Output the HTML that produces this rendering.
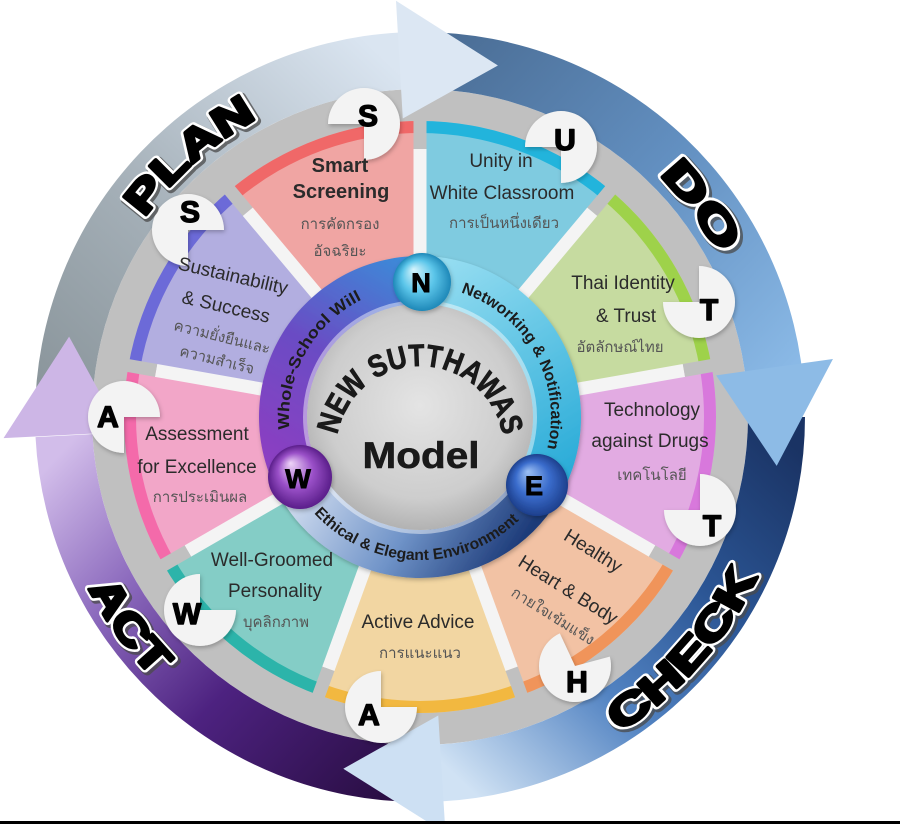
<!DOCTYPE html>
<html>
<head>
<meta charset="utf-8">
<style>
html,body{margin:0;padding:0;background:#fff;width:900px;height:824px;overflow:hidden}
svg{display:block}
</style>
</head>
<body>
<svg width="900" height="824" viewBox="0 0 900 824" xmlns="http://www.w3.org/2000/svg" font-family="'Liberation Sans', 'Noto Sans CJK SC', sans-serif">
<defs>
  <path id="band" d="M0,-385 A385,385 0 0 1 384.47,-20.15 L327.55,-17.17 A328,328 0 0 0 0,-328 Z"/>
  <path id="head" d="M0,-417 L0,-299 L98.02,-346.4 Z"/>
  <path id="seg" d="M0,-296 A296,296 0 0 1 190.27,-226.74 L96.42,-114.9 A150,150 0 0 0 0,-150 Z"/>
  <path id="rim" d="M0,-296 A296,296 0 0 1 190.27,-226.74 L182.56,-217.54 A284,284 0 0 0 0,-284 Z"/>

  <linearGradient id="gPlan" gradientUnits="userSpaceOnUse" x1="12.4" y1="-355.8" x2="354.6" y2="-31">
    <stop offset="0" stop-color="#8b969c"/><stop offset="0.4" stop-color="#a3aeb6"/><stop offset="1" stop-color="#dae5f1"/>
  </linearGradient>
  <linearGradient id="gDo" gradientUnits="userSpaceOnUse" x1="12.4" y1="-355.8" x2="354.6" y2="-31">
    <stop offset="0" stop-color="#4b6e96"/><stop offset="0.5" stop-color="#628fc0"/><stop offset="1" stop-color="#8ab9e6"/>
  </linearGradient>
  <linearGradient id="gCheck" gradientUnits="userSpaceOnUse" x1="12.4" y1="-355.8" x2="354.6" y2="-31">
    <stop offset="0" stop-color="#1a3364"/><stop offset="0.35" stop-color="#2b5594"/><stop offset="0.65" stop-color="#5283c2"/><stop offset="1" stop-color="#d0e2f4"/>
  </linearGradient>
  <linearGradient id="gAct" gradientUnits="userSpaceOnUse" x1="12.4" y1="-355.8" x2="354.6" y2="-31">
    <stop offset="0" stop-color="#2a0e44"/><stop offset="0.4" stop-color="#4d2280"/><stop offset="0.7" stop-color="#8a68bc"/><stop offset="1" stop-color="#d2bdea"/>
  </linearGradient>

  <linearGradient id="gLeft" gradientUnits="userSpaceOnUse" x1="290" y1="470" x2="410" y2="262">
    <stop offset="0" stop-color="#8b3fc2"/><stop offset="0.5" stop-color="#6a4cc4"/><stop offset="1" stop-color="#3c8ad8"/>
  </linearGradient>
  <linearGradient id="gRight" gradientUnits="userSpaceOnUse" x1="430" y1="256" x2="575" y2="490">
    <stop offset="0" stop-color="#9adff2"/><stop offset="1" stop-color="#22a8d6"/>
  </linearGradient>
  <linearGradient id="gBottom" gradientUnits="userSpaceOnUse" x1="320" y1="470" x2="500" y2="580">
    <stop offset="0" stop-color="#c8d6ec"/><stop offset="0.5" stop-color="#6f93c8"/><stop offset="1" stop-color="#1c3a78"/>
  </linearGradient>
  <radialGradient id="gDisc" cx="50%" cy="45%" r="55%">
    <stop offset="0" stop-color="#e4e4e4"/><stop offset="0.75" stop-color="#cdcdcd"/><stop offset="1" stop-color="#b2b2b2"/>
  </radialGradient>
  <radialGradient id="gN" cx="50%" cy="50%" r="50%" fx="35%" fy="28%">
    <stop offset="0" stop-color="#d6f4fc"/><stop offset="0.55" stop-color="#5cc6ea"/><stop offset="1" stop-color="#1e88b8"/>
  </radialGradient>
  <radialGradient id="gE" cx="50%" cy="50%" r="50%" fx="35%" fy="28%">
    <stop offset="0" stop-color="#9cc0f4"/><stop offset="0.55" stop-color="#3a6ccc"/><stop offset="1" stop-color="#1d3f8c"/>
  </radialGradient>
  <radialGradient id="gW" cx="50%" cy="50%" r="50%" fx="35%" fy="28%">
    <stop offset="0" stop-color="#eed4f8"/><stop offset="0.55" stop-color="#9a50c8"/><stop offset="1" stop-color="#5a1e8a"/>
  </radialGradient>

  <filter id="sh" x="-20%" y="-20%" width="140%" height="140%">
    <feDropShadow dx="1" dy="2" stdDeviation="2" flood-color="#000" flood-opacity="0.25"/>
  </filter>

  <path id="cw340" d="M420,77 A340,340 0 1 1 420,757 A340,340 0 1 1 420,77"/>
  <path id="ccw373" d="M420,790 A373,373 0 1 0 420,44 A373,373 0 1 0 420,790"/>
  <path id="newArc" d="M420,534 A84,84 0 1 1 420,366 A84,84 0 1 1 420,534"/>
  <path id="cw131" d="M420,286 A131,131 0 1 1 420,548 A131,131 0 1 1 420,286"/>
  <path id="ccw143" d="M420,274 A143,143 0 1 0 420,560 A143,143 0 1 0 420,274"/>
</defs>

<rect width="900" height="824" fill="#fff"/>

<!-- gray ring -->
<circle cx="420" cy="417" r="328" fill="#c0c0c0"/>

<!-- arrow bands -->
<use href="#band" fill="url(#gPlan)" transform="translate(420 417) rotate(270)"/>
<use href="#band" fill="url(#gDo)" transform="translate(420 417) rotate(0)"/>
<use href="#band" fill="url(#gCheck)" transform="translate(420 417) rotate(90)"/>
<use href="#band" fill="url(#gAct)" transform="translate(420 417) rotate(180)"/>

<!-- arrow heads -->
<use href="#head" fill="#dce7f3" transform="translate(420 417) rotate(-3.3)"/>
<use href="#head" fill="#8dbbe6" transform="translate(420 417) rotate(82)"/>
<use href="#head" fill="#cde0f3" transform="translate(420 417) rotate(176.5)"/>
<use href="#head" fill="#cdb6e6" transform="translate(420 417) rotate(267.1)"/>

<!-- white disc under segments -->
<circle cx="420" cy="417" r="268" fill="#f3f3f3"/>

<!-- segments -->
<g transform="translate(420 417)">
  <use href="#seg" fill="#7fcbe0" transform="rotate(0)"/>
  <use href="#seg" fill="#c6dba0" transform="rotate(40)"/>
  <use href="#seg" fill="#e2abe2" transform="rotate(80)"/>
  <use href="#seg" fill="#f2c2a4" transform="rotate(120)"/>
  <use href="#seg" fill="#f2d6a2" transform="rotate(160)"/>
  <use href="#seg" fill="#84cdc6" transform="rotate(200)"/>
  <use href="#seg" fill="#f2a6c8" transform="rotate(240)"/>
  <use href="#seg" fill="#b2aee0" transform="rotate(280)"/>
  <use href="#seg" fill="#f0a5a3" transform="rotate(320)"/>

  <use href="#rim" fill="#22b4dc" transform="rotate(0)"/>
  <use href="#rim" fill="#9ed24a" transform="rotate(40)"/>
  <use href="#rim" fill="#d878dc" transform="rotate(80)"/>
  <use href="#rim" fill="#f0945a" transform="rotate(120)"/>
  <use href="#rim" fill="#f2b840" transform="rotate(160)"/>
  <use href="#rim" fill="#2cb4aa" transform="rotate(200)"/>
  <use href="#rim" fill="#f46aaa" transform="rotate(240)"/>
  <use href="#rim" fill="#6c6ad8" transform="rotate(280)"/>
  <use href="#rim" fill="#f06868" transform="rotate(320)"/>

  <g stroke-width="13">
    <g transform="rotate(0)"><line x1="0" y1="-150" x2="0" y2="-268" stroke="#f4f4f4"/><line x1="0" y1="-268" x2="0" y2="-299" stroke="#c0c0c0"/></g>
    <g transform="rotate(40)"><line x1="0" y1="-150" x2="0" y2="-268" stroke="#f4f4f4"/><line x1="0" y1="-268" x2="0" y2="-299" stroke="#c0c0c0"/></g>
    <g transform="rotate(80)"><line x1="0" y1="-150" x2="0" y2="-268" stroke="#f4f4f4"/><line x1="0" y1="-268" x2="0" y2="-299" stroke="#c0c0c0"/></g>
    <g transform="rotate(120)"><line x1="0" y1="-150" x2="0" y2="-268" stroke="#f4f4f4"/><line x1="0" y1="-268" x2="0" y2="-299" stroke="#c0c0c0"/></g>
    <g transform="rotate(160)"><line x1="0" y1="-150" x2="0" y2="-268" stroke="#f4f4f4"/><line x1="0" y1="-268" x2="0" y2="-299" stroke="#c0c0c0"/></g>
    <g transform="rotate(200)"><line x1="0" y1="-150" x2="0" y2="-268" stroke="#f4f4f4"/><line x1="0" y1="-268" x2="0" y2="-299" stroke="#c0c0c0"/></g>
    <g transform="rotate(240)"><line x1="0" y1="-150" x2="0" y2="-268" stroke="#f4f4f4"/><line x1="0" y1="-268" x2="0" y2="-299" stroke="#c0c0c0"/></g>
    <g transform="rotate(280)"><line x1="0" y1="-150" x2="0" y2="-268" stroke="#f4f4f4"/><line x1="0" y1="-268" x2="0" y2="-299" stroke="#c0c0c0"/></g>
    <g transform="rotate(320)"><line x1="0" y1="-150" x2="0" y2="-268" stroke="#f4f4f4"/><line x1="0" y1="-268" x2="0" y2="-299" stroke="#c0c0c0"/></g>
  </g>
</g>

<!-- letter bubbles -->
<g fill="#f3f3f3" filter="url(#sh)">
  <path d="M364,124 L328,124 A36,36 0 1 1 364,160 Z"/>
  <path d="M561,147 L525,147 A36,36 0 1 1 561,183 Z"/>
  <path d="M699,302 L699,266 A36,36 0 1 1 663,302 Z"/>
  <path d="M700,510 L700,474 A36,36 0 1 1 664,510 Z"/>
  <path d="M575,666 L609.77,656.68 A36,36 0 1 1 559.79,633.37 Z"/>
  <path d="M381,707 L417,707 A36,36 0 1 1 381,671 Z"/>
  <path d="M200,610 L236,610 A36,36 0 1 1 200,574 Z"/>
  <path d="M124,417 L124,453 A36,36 0 1 1 160,417 Z"/>
  <path d="M188,230 L188,266 A36,36 0 1 1 224,230 Z"/>
</g>
<g font-size="30" font-weight="bold" fill="#000" stroke="#000" stroke-width="1.4" stroke-linejoin="round" text-anchor="middle">
  <text x="368" y="126">S</text>
  <text x="565" y="150">U</text>
  <text x="709" y="320">T</text>
  <text x="712" y="536">T</text>
  <text x="577" y="692">H</text>
  <text x="369" y="725">A</text>
  <text x="187" y="624">W</text>
  <text x="108" y="427">A</text>
  <text x="190" y="222">S</text>
</g>

<!-- segment texts -->
<g fill="#2b2b2b" text-anchor="middle" font-size="19">
  <text x="340" y="172" font-size="20" font-weight="bold">Smart</text>
  <text x="341" y="198" font-size="20" font-weight="bold">Screening</text>

  <text x="501" y="167">Unity in</text>
  <text x="502" y="199">White Classroom</text>

  <text x="623" y="289">Thai Identity</text>
  <text x="626" y="322">&amp; Trust</text>

  <text x="652" y="416">Technology</text>
  <text x="650" y="447">against Drugs</text>

  <g transform="translate(593 551) rotate(32)"><text x="0" y="6">Healthy</text></g>
  <g transform="translate(568 590) rotate(32)"><text x="0" y="6">Heart &amp; Body</text></g>

  <text x="418" y="628">Active Advice</text>

  <text x="272" y="566">Well-Groomed</text>
  <text x="275" y="597">Personality</text>

  <text x="197" y="440">Assessment</text>
  <text x="197" y="473">for Excellence</text>

  <g transform="translate(233 276) rotate(13)"><text x="0" y="6">Sustainability</text></g>
  <g transform="translate(226 307) rotate(13)"><text x="0" y="6">&amp; Success</text></g>
</g>
<g fill="#555" text-anchor="middle" font-size="15">
  <text x="340" y="229">การคัดกรอง</text>
  <text x="340" y="256">อัจฉริยะ</text>
  <text x="504" y="228">การเป็นหนึ่งเดียว</text>
  <text x="620" y="352">อัตลักษณ์ไทย</text>
  <text x="652" y="480">เทคโนโลยี</text>
  <g transform="translate(553 616) rotate(32)"><text x="0" y="5">กายใจเข้มแข็ง</text></g>
  <text x="420" y="658">การแนะแนว</text>
  <text x="276" y="627">บุคลิกภาพ</text>
  <text x="200" y="502">การประเมินผล</text>
  <g transform="translate(222 337) rotate(14)"><text x="0" y="5">ความยั่งยืนและ</text></g>
  <g transform="translate(217 360) rotate(14)"><text x="0" y="5">ความสำเร็จ</text></g>
</g>

<!-- inner ring -->
<g filter="url(#sh)">
  <path d="M420,256 A161,161 0 0 1 559.43,497.5 L517.86,473.5 A113,113 0 0 0 420,304 Z" fill="url(#gRight)"/>
  <path d="M559.43,497.5 A161,161 0 0 1 276.55,490.09 L319.32,468.3 A113,113 0 0 0 517.86,473.5 Z" fill="url(#gBottom)"/>
  <path d="M276.55,490.09 A161,161 0 0 1 420,256 L420,304 A113,113 0 0 0 319.32,468.3 Z" fill="url(#gLeft)"/>
</g>
<circle cx="420" cy="417" r="115" fill="none" stroke="#ffffff" stroke-opacity="0.45" stroke-width="4"/>
<circle cx="420" cy="417" r="113" fill="url(#gDisc)"/>

<!-- ring texts -->
<g font-weight="bold" font-size="16" fill="#1c1c1c" text-anchor="middle">
  <text><textPath href="#cw131" startOffset="683.6" textLength="158" lengthAdjust="spacingAndGlyphs">Whole-School Will</textPath></text>
  <text><textPath href="#cw131" startOffset="139.5" textLength="196" lengthAdjust="spacingAndGlyphs">Networking &amp; Notification</textPath></text>
  <text font-size="15.5"><textPath href="#ccw143" startOffset="444.3" textLength="229" lengthAdjust="spacingAndGlyphs">Ethical &amp; Elegant Environment</textPath></text>
</g>

<!-- center bubbles -->
<g filter="url(#sh)">
  <circle cx="422" cy="282" r="29" fill="url(#gN)"/>
  <circle cx="537" cy="485" r="31" fill="url(#gE)"/>
  <circle cx="300" cy="477" r="32" fill="url(#gW)"/>
</g>
<g font-size="27" font-weight="bold" fill="#000" stroke="#000" stroke-width="1" text-anchor="middle">
  <text x="421" y="292">N</text>
  <text x="534" y="495">E</text>
  <text x="298" y="488">W</text>
</g>

<!-- center title -->
<text font-size="31" font-weight="bold" fill="#1a1a1a" stroke="#1a1a1a" stroke-width="0.8" text-anchor="middle"><textPath href="#newArc" startOffset="263.9" textLength="234" lengthAdjust="spacingAndGlyphs">NEW SUTTHAWAS</textPath></text>
<text x="421" y="468" font-size="37" font-weight="bold" fill="#1a1a1a" stroke="#1a1a1a" stroke-width="0.6" text-anchor="middle" textLength="117" lengthAdjust="spacingAndGlyphs">Model</text>

<!-- PDCA labels: shadow, white outline, heavy black -->
<g font-size="42" font-weight="bold" text-anchor="middle" stroke-linejoin="round">
  <g fill="#4a4a4a" stroke="#4a4a4a" stroke-width="9" opacity="0.75" transform="translate(2 2)">
    <text><textPath href="#cw340" startOffset="1890" textLength="151" lengthAdjust="spacingAndGlyphs">PLAN</textPath></text>
    <text><textPath href="#cw340" startOffset="314.5" textLength="99" lengthAdjust="spacingAndGlyphs">DO</textPath></text>
    <text><textPath href="#ccw373" startOffset="315.7" textLength="210" lengthAdjust="spacingAndGlyphs">CHECK</textPath></text>
    <text><textPath href="#ccw373" startOffset="1990" textLength="110" lengthAdjust="spacingAndGlyphs">ACT</textPath></text>
  </g>
  <g fill="#fff" stroke="#fff" stroke-width="7.5">
    <text><textPath href="#cw340" startOffset="1890" textLength="151" lengthAdjust="spacingAndGlyphs">PLAN</textPath></text>
    <text><textPath href="#cw340" startOffset="314.5" textLength="99" lengthAdjust="spacingAndGlyphs">DO</textPath></text>
    <text><textPath href="#ccw373" startOffset="315.7" textLength="210" lengthAdjust="spacingAndGlyphs">CHECK</textPath></text>
    <text><textPath href="#ccw373" startOffset="1990" textLength="110" lengthAdjust="spacingAndGlyphs">ACT</textPath></text>
  </g>
  <g fill="#000" stroke="#000" stroke-width="3.2">
    <text><textPath href="#cw340" startOffset="1890" textLength="151" lengthAdjust="spacingAndGlyphs">PLAN</textPath></text>
    <text><textPath href="#cw340" startOffset="314.5" textLength="99" lengthAdjust="spacingAndGlyphs">DO</textPath></text>
    <text><textPath href="#ccw373" startOffset="315.7" textLength="210" lengthAdjust="spacingAndGlyphs">CHECK</textPath></text>
    <text><textPath href="#ccw373" startOffset="1990" textLength="110" lengthAdjust="spacingAndGlyphs">ACT</textPath></text>
  </g>
</g>

<rect x="0" y="821" width="900" height="3" fill="#000"/>
</svg>
</body>
</html>
